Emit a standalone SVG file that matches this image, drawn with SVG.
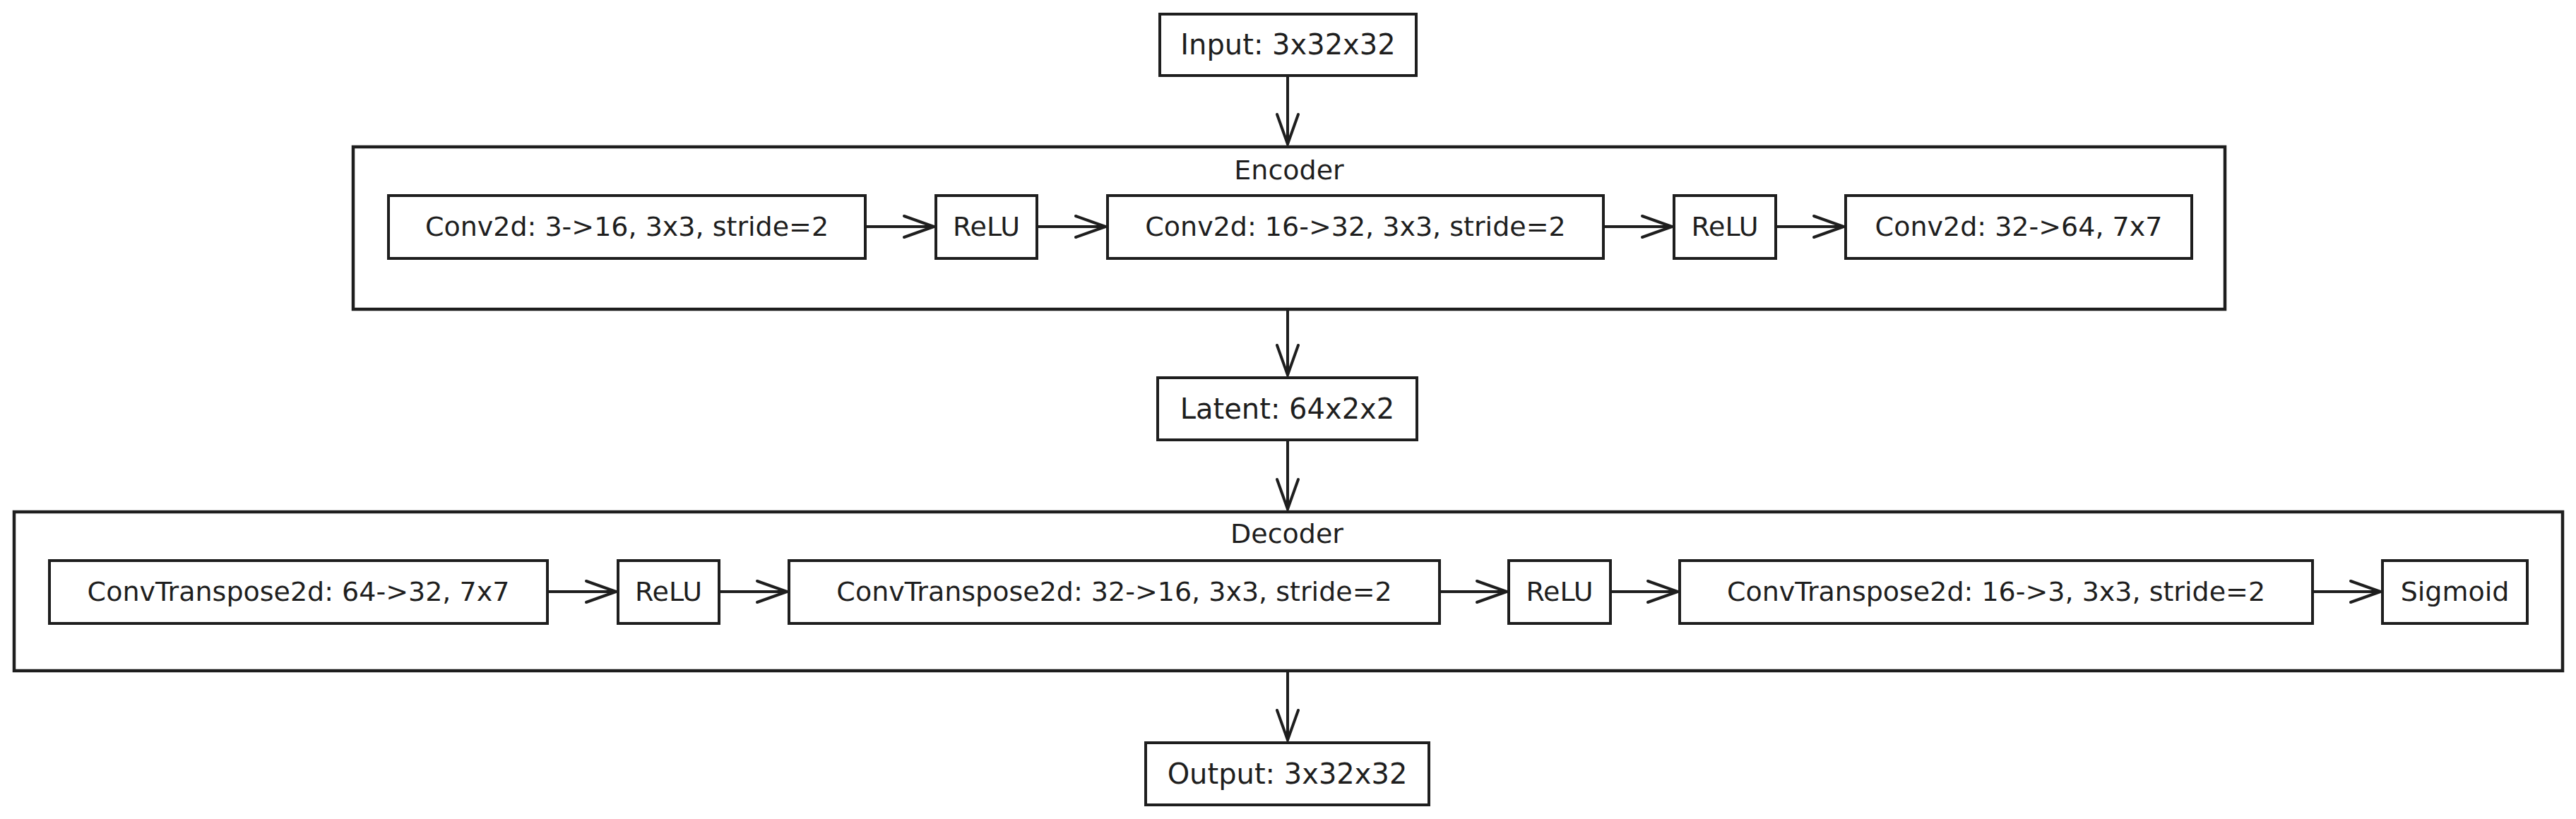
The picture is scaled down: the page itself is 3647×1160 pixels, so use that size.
<svg xmlns="http://www.w3.org/2000/svg" width="3647" height="1160" viewBox="0 0 3647 1160">
<defs>
<style>
.box{fill:#ffffff;stroke:#1e1e1e;stroke-width:4;}
.cont{fill:none;stroke:#1e1e1e;stroke-width:4.5;}
.lbl{font-family:"DejaVu Sans","Liberation Sans",sans-serif;font-size:38px;fill:#1e1e1e;text-anchor:middle;dominant-baseline:central;}
.io{font-size:40px;}
.edge{fill:none;stroke:#1e1e1e;stroke-width:4;stroke-linecap:round;marker-end:url(#arr);}
</style>
<marker id="arr" markerUnits="userSpaceOnUse" viewBox="-4 -4 52 40" refX="42" refY="15" markerWidth="52" markerHeight="40" orient="auto" overflow="visible">
<path d="M0,0 L42,15 L0,30" fill="none" stroke="#1e1e1e" stroke-width="4" stroke-linecap="round" stroke-linejoin="round"/>
</marker>
</defs>
<rect width="3647" height="1160" fill="#ffffff"/>

<g id="encoder">
<rect class="cont" x="500" y="208" width="2650" height="230"/>
<text class="lbl" x="1825" y="241">Encoder</text>
</g>
<g id="decoder">
<rect class="cont" x="20" y="725" width="3608" height="225"/>
<text class="lbl" x="1822" y="756">Decoder</text>
</g>

<g id="connectors">
<path class="edge" d="M1823,107 L1823,204"/>
<path class="edge" d="M1823,438 L1823,531"/>
<path class="edge" d="M1823,623 L1823,721"/>
<path class="edge" d="M1823,950 L1823,1048"/>
<path class="edge" d="M1225,321 L1322,321"/>
<path class="edge" d="M1468,321 L1565,321"/>
<path class="edge" d="M2270,321 L2367,321"/>
<path class="edge" d="M2514,321 L2610,321"/>
<path class="edge" d="M775,838 L872,838"/>
<path class="edge" d="M1018,838 L1114,838"/>
<path class="edge" d="M2038,838 L2133,838"/>
<path class="edge" d="M2280,838 L2375,838"/>
<path class="edge" d="M3274,838 L3370,838"/>
</g>

<g id="input">
<rect class="box" x="1642" y="20" width="363" height="87"/>
<text class="lbl io" x="1823.5" y="63">Input: 3x32x32</text>
</g>
<g id="conv1">
<rect class="box" x="550" y="277" width="675" height="89"/>
<text class="lbl" x="887.5" y="321">Conv2d: 3-&gt;16, 3x3, stride=2</text>
</g>
<g id="relu1">
<rect class="box" x="1325" y="277" width="143" height="89"/>
<text class="lbl" x="1396.5" y="321">ReLU</text>
</g>
<g id="conv2">
<rect class="box" x="1568" y="277" width="702" height="89"/>
<text class="lbl" x="1919" y="321">Conv2d: 16-&gt;32, 3x3, stride=2</text>
</g>
<g id="relu2">
<rect class="box" x="2370" y="277" width="144" height="89"/>
<text class="lbl" x="2442" y="321">ReLU</text>
</g>
<g id="conv3">
<rect class="box" x="2613" y="277" width="490" height="89"/>
<text class="lbl" x="2858" y="321">Conv2d: 32-&gt;64, 7x7</text>
</g>
<g id="latent">
<rect class="box" x="1639" y="535" width="367" height="88"/>
<text class="lbl io" x="1822.5" y="579">Latent: 64x2x2</text>
</g>
<g id="convt1">
<rect class="box" x="70" y="794" width="705" height="89"/>
<text class="lbl" x="422.5" y="838">ConvTranspose2d: 64-&gt;32, 7x7</text>
</g>
<g id="relu3">
<rect class="box" x="875" y="794" width="143" height="89"/>
<text class="lbl" x="946.5" y="838">ReLU</text>
</g>
<g id="convt2">
<rect class="box" x="1117" y="794" width="921" height="89"/>
<text class="lbl" x="1577.5" y="838">ConvTranspose2d: 32-&gt;16, 3x3, stride=2</text>
</g>
<g id="relu4">
<rect class="box" x="2136" y="794" width="144" height="89"/>
<text class="lbl" x="2208" y="838">ReLU</text>
</g>
<g id="convt3">
<rect class="box" x="2378" y="794" width="896" height="89"/>
<text class="lbl" x="2826" y="838">ConvTranspose2d: 16-&gt;3, 3x3, stride=2</text>
</g>
<g id="sigmoid">
<rect class="box" x="3373" y="794" width="205" height="89"/>
<text class="lbl" x="3475.5" y="838">Sigmoid</text>
</g>
<g id="output">
<rect class="box" x="1622" y="1052" width="401" height="88"/>
<text class="lbl io" x="1822.5" y="1096">Output: 3x32x32</text>
</g>
</svg>
